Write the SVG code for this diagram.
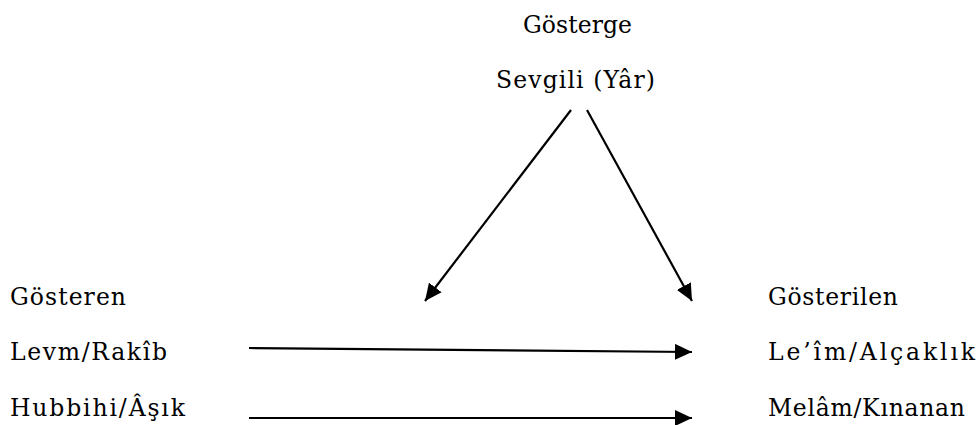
<svg xmlns="http://www.w3.org/2000/svg" width="979" height="425" viewBox="0 0 979 425">
<style>
text{font-family:"DejaVu Serif","Liberation Serif",serif;font-size:23.5px;fill:#000}
.c line{stroke:#000;stroke-width:2.2;fill:none;marker-end:url(#ah)}
</style>
<defs>
<marker id="ah" markerUnits="userSpaceOnUse" markerWidth="17" markerHeight="16" refX="17" refY="8" orient="auto" viewBox="0 0 17 16">
<path d="M0,0 L17,8 L0,16 z" fill="#000"/>
</marker>
</defs>
<rect width="979" height="425" fill="#fff"/>
<g id="gosterge">
<text x="523" y="33" textLength="109">Gösterge</text>
<text x="496" y="88" textLength="159">Sevgili (Yâr)</text>
</g>
<g id="gosteren">
<text x="10" y="305" textLength="116">Gösteren</text>
<text x="10" y="360" textLength="157">Levm/Rakîb</text>
<text x="10" y="416" textLength="175">Hubbihi/Âşık</text>
</g>
<g id="gosterilen">
<text x="768" y="305" textLength="130">Gösterilen</text>
<text x="768" y="360" textLength="207">Le’îm/Alçaklık</text>
<text x="768" y="416" textLength="197">Melâm/Kınanan</text>
</g>
<g class="c" id="connectors">
<line x1="571" y1="110" x2="425" y2="301"/>
<line x1="587" y1="110" x2="692" y2="301"/>
<line x1="249" y1="348" x2="692" y2="352"/>
<line x1="249" y1="418" x2="692" y2="418"/>
</g>
</svg>
